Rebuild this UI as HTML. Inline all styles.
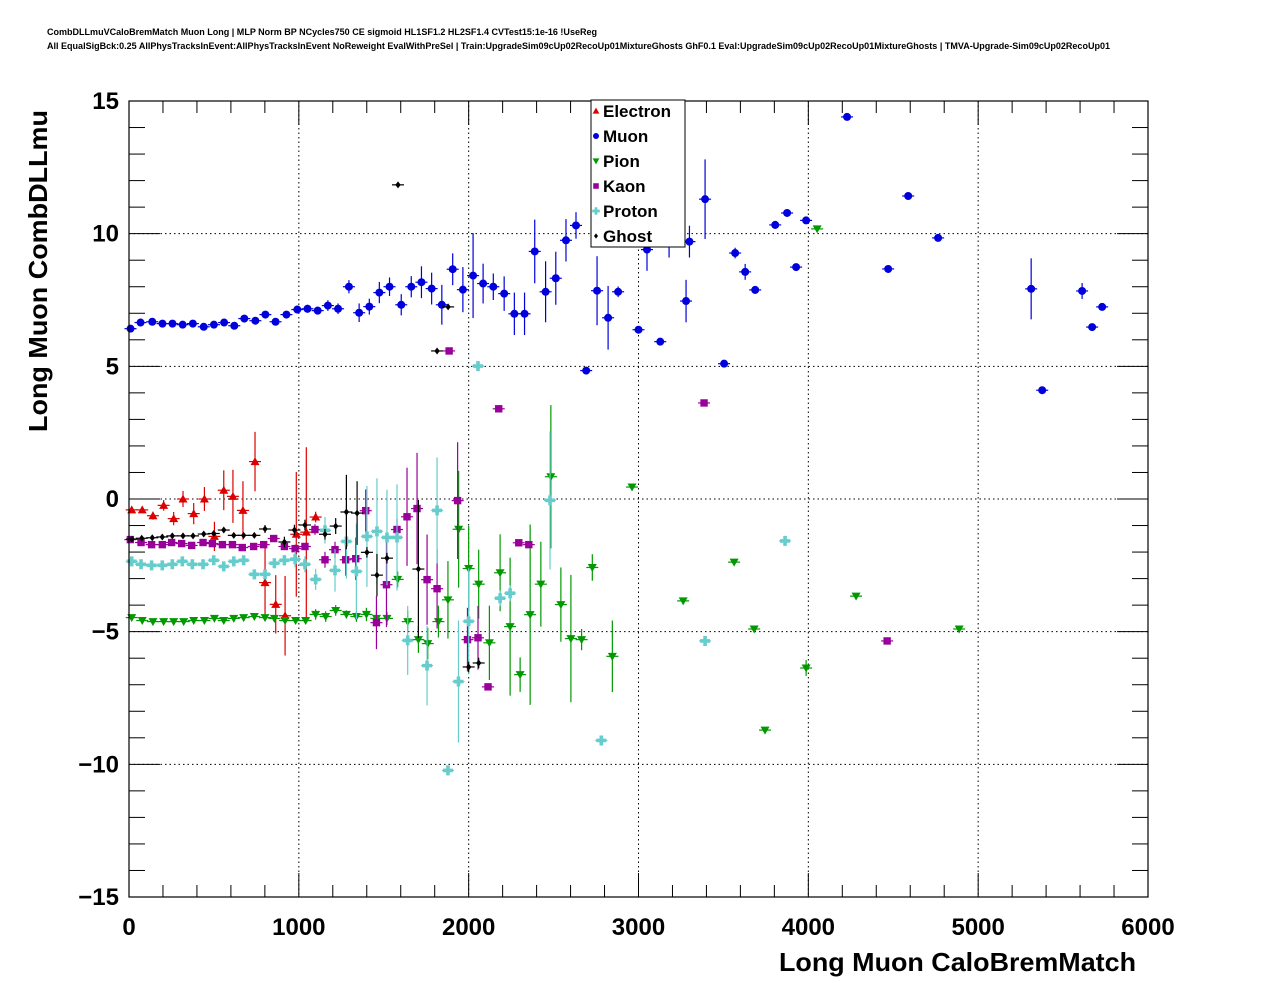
<!DOCTYPE html>
<html><head><meta charset="utf-8">
<style>
html,body{margin:0;padding:0;background:#fff;}
svg{display:block;font-family:"Liberation Sans",sans-serif;}
</style></head>
<body>
<svg id="chart" width="1276" height="996" viewBox="0 0 1276 996" xmlns="http://www.w3.org/2000/svg">
<rect width="1276" height="996" fill="#fff"/>
<text x="47" y="35" font-size="9.2" font-weight="bold" textLength="550" lengthAdjust="spacingAndGlyphs">CombDLLmuVCaloBremMatch Muon Long | MLP Norm BP NCycles750 CE sigmoid HL1SF1.2 HL2SF1.4 CVTest15:1e-16 !UseReg</text>
<text x="47" y="49" font-size="9.2" font-weight="bold" textLength="1063" lengthAdjust="spacingAndGlyphs">All EqualSigBck:0.25 AllPhysTracksInEvent:AllPhysTracksInEvent NoReweight EvalWithPreSel | Train:UpgradeSim09cUp02RecoUp01MixtureGhosts GhF0.1 Eval:UpgradeSim09cUp02RecoUp01MixtureGhosts | TMVA-Upgrade-Sim09cUp02RecoUp01</text>
<g id="grid"></g>
<g id="axes"></g>
<g id="marks"></g>
<rect x="129" y="101" width="1019" height="796" fill="none" stroke="#000" stroke-width="1.2"/>
<text x="1136" y="971" font-size="26" font-weight="bold" text-anchor="end" textLength="357" lengthAdjust="spacingAndGlyphs">Long Muon CaloBremMatch</text>
<text transform="translate(47,432) rotate(-90)" font-size="26" font-weight="bold" textLength="322" lengthAdjust="spacingAndGlyphs">Long Muon CombDLLmu</text>
<g id="legend"></g>
</svg>
<script>
const xTicks=[0,1000,2000,3000,4000,5000,6000];
const yTicks=[-15,-10,-5,0,5,10,15];
const yTickLabels=["\u221215","\u221210","\u22125","0","5","10","15"];

const electronX=[16,78,141,204,263,318,381,444,503,558,612,671,742,801,864,919,985,1044,1099];
const electronY=[-0.41,-0.41,-0.63,-0.24,-0.74,0.0,-0.55,0.0,-1.41,0.33,0.10,-0.43,1.41,-3.15,-3.97,-4.4,-1.33,-1.25,-0.68];
const electronE=[0.1,0.1,0.15,0.2,0.25,0.3,0.4,0.45,0.55,0.75,1.0,1.1,1.12,1.3,1.1,1.5,2.35,3.2,0.2];

const muonX=[9,68,137,197,256,316,376,440,500,560,620,679,744,803,863,927,991,1051,1111,1171,1231,1295,1355,1415,1474,1534,1603,1662,1722,1782,1842,1906,1966,2026,2085,2145,2209,2269,2329,2389,2453,2513,2573,2632,2692,2756,2821,2880,3000,3050,3128,3180,3280,3300,3392,3504,3569,3628,3687,3805,3875,3928,3987,4228,4470,4588,4764,5312,5377,5612,5671,5730];
const muonY=[6.42,6.65,6.68,6.61,6.61,6.57,6.61,6.49,6.57,6.65,6.53,6.80,6.72,6.95,6.68,6.95,7.14,7.17,7.10,7.29,7.17,8.00,7.02,7.25,7.78,8.00,7.32,8.00,8.17,7.93,7.32,8.66,7.89,8.42,8.12,8.00,7.74,6.98,6.98,9.33,7.81,8.32,9.75,10.31,4.84,7.85,6.83,7.81,6.38,9.4,5.93,9.9,7.46,9.7,11.3,5.1,9.27,8.56,7.88,10.33,10.78,8.74,10.5,14.4,8.67,11.42,9.84,7.92,4.1,7.84,6.48,7.24];
const muonE=[0.1,0.1,0.1,0.1,0.1,0.1,0.1,0.1,0.1,0.1,0.1,0.1,0.1,0.1,0.1,0.1,0.15,0.15,0.15,0.2,0.2,0.25,0.35,0.3,0.4,0.35,0.4,0.4,0.6,0.6,0.75,0.6,0.85,1.6,0.75,0.5,0.65,0.8,0.8,1.2,1.15,1.0,0.8,0.5,0.1,1.3,1.2,0.2,0.1,0.8,0.1,0.8,0.8,0.6,1.5,0.1,0.2,0.3,0.15,0.15,0.1,0.1,0.1,0.1,0.1,0.1,0.1,1.15,0.1,0.3,0.1,0.1];

const pionX=[16,78,141,204,263,322,381,444,503,558,617,675,738,801,856,919,981,1040,1099,1158,1217,1280,1339,1398,1457,1519,1582,1641,1704,1759,1822,1878,1941,2000,2059,2122,2185,2244,2303,2362,2425,2484,2543,2602,2665,2728,2846,2962,3263,3563,3681,3745,3987,4052,4281,4888];
const pionY=[-4.47,-4.58,-4.62,-4.62,-4.62,-4.62,-4.58,-4.58,-4.50,-4.58,-4.50,-4.47,-4.43,-4.47,-4.50,-4.58,-4.58,-4.58,-4.35,-4.43,-4.20,-4.35,-4.43,-4.35,-4.50,-4.50,-3.03,-4.62,-5.3,-5.45,-4.62,-3.8,-1.14,-2.62,-3.21,-5.42,-2.78,-4.81,-6.62,-4.36,-3.21,0.84,-3.98,-5.26,-5.30,-2.58,-5.93,0.45,-3.84,-2.38,-4.90,-8.71,-6.37,10.18,-3.66,-4.90];
const pionE=[0.05,0.05,0.05,0.05,0.05,0.05,0.05,0.05,0.05,0.05,0.05,0.05,0.05,0.05,0.1,0.1,0.1,0.1,0.2,0.2,0.2,0.15,0.2,0.25,0.25,0.25,0.3,0.4,0.5,0.6,0.6,1.46,2.2,1.6,1.3,1.4,1.45,2.6,0.65,3.4,1.6,2.7,1.4,2.4,0.4,0.5,1.35,0.1,0.1,0.1,0.1,0.1,0.3,0.1,0.1,0.1];

const kaonX=[8,71,133,196,251,310,369,436,491,550,609,667,734,793,852,915,978,1036,1095,1154,1213,1276,1335,1394,1457,1516,1578,1637,1696,1755,1814,1885,1935,1993,2055,2114,2177,2295,2354,3386,4464];
const kaonY=[-1.53,-1.64,-1.72,-1.72,-1.64,-1.68,-1.75,-1.64,-1.68,-1.72,-1.72,-1.83,-1.79,-1.72,-1.49,-1.79,-1.87,-1.79,-1.15,-2.29,-1.91,-2.29,-2.25,-0.44,-4.66,-3.23,-1.15,-0.67,-0.36,-3.04,-3.38,5.58,-0.06,-5.30,-5.23,-7.08,3.40,-1.65,-1.72,3.62,-5.35];
const kaonE=[0.05,0.05,0.05,0.05,0.05,0.05,0.05,0.05,0.05,0.05,0.05,0.05,0.1,0.1,0.1,0.1,0.15,0.1,0.2,0.3,0.3,0.6,0.8,0.8,1.0,1.6,0.4,1.85,2.1,1.7,1.5,0.05,2.2,1.2,1.2,0.1,0.05,0.1,0.1,0.05,0.05];

const protonX=[16,71,133,196,255,314,373,436,499,558,617,675,738,801,856,915,978,1036,1099,1154,1213,1280,1339,1401,1460,1519,1578,1641,1755,1814,1878,1940,2000,2055,2185,2244,2479,2781,3392,3863];
const protonY=[-2.35,-2.46,-2.5,-2.5,-2.46,-2.35,-2.46,-2.46,-2.31,-2.54,-2.35,-2.31,-2.84,-2.84,-2.42,-2.31,-2.27,-2.46,-3.03,-1.18,-2.69,-1.60,-2.73,-1.41,-1.22,-1.45,-1.45,-5.33,-6.28,-0.43,-10.23,-6.88,-4.61,5.01,-3.74,-3.55,-0.05,-9.1,-5.35,-1.58];
const protonE=[0.05,0.05,0.05,0.05,0.05,0.05,0.05,0.05,0.05,0.05,0.05,0.1,0.15,0.15,0.15,0.2,0.3,0.3,0.4,0.5,0.8,1.4,1.8,1.9,2.0,1.8,2.0,1.3,1.5,2.0,0.05,2.3,2.0,0.05,0.3,0.3,2.6,0.05,0.05,0.05];

const ghostX=[17,75,137,196,255,318,377,440,499,558,617,675,738,801,915,974,1036,1154,1217,1280,1343,1401,1460,1519,1584,1704,1814,1879,2000,2059];
const ghostY=[-1.51,-1.48,-1.46,-1.43,-1.39,-1.39,-1.39,-1.32,-1.30,-1.17,-1.37,-1.37,-1.37,-1.13,-1.62,-1.17,-0.98,-1.33,-1.02,-0.49,-0.53,-2.01,-2.87,-2.23,11.84,-2.64,5.58,7.24,-6.33,-6.18];
const ghostE=[0.05,0.05,0.05,0.05,0.05,0.05,0.05,0.05,0.05,0.05,0.05,0.1,0.1,0.15,0.2,0.2,0.2,0.2,0.3,1.4,1.2,0.2,0.8,0.2,0.05,2.6,0.05,0.05,0.2,0.2];

const X0=129,X1=1148,Y0=897,Y1=101;
const xs=v=>X0+(v-0)/6000*(X1-X0);
const ys=v=>Y0-(v+15)/30*(Y0-Y1);
const NS="http://www.w3.org/2000/svg";
function mk(tag,attrs,parent){const e=document.createElementNS(NS,tag);for(const k in attrs)e.setAttribute(k,attrs[k]);parent.appendChild(e);return e;}
const grid=document.getElementById('grid'),axes=document.getElementById('axes'),marks=document.getElementById('marks'),legend=document.getElementById('legend');

xTicks.forEach((t,i)=>{
  const x=xs(t);
  if(i>0&&i<xTicks.length-1){const g=mk('line',{x1:x,x2:x,y1:Y1,y2:Y0,stroke:'#000','stroke-width':1,'stroke-dasharray':'1.5,3'},grid);
  
  }
  const l=mk('text',{x:x,y:935,'font-size':24,'font-weight':'bold','text-anchor':'middle'},axes);
  
  
  l.textContent=t;
  mk('line',{x1:x,x2:x,y1:Y0,y2:Y0-24,stroke:'#000'},axes);
  mk('line',{x1:x,x2:x,y1:Y1,y2:Y1+24,stroke:'#000'},axes);
  if(i<xTicks.length-1){for(let k=1;k<5;k++){const xm=xs(t+k*200);
    mk('line',{x1:xm,x2:xm,y1:Y0,y2:Y0-12,stroke:'#000'},axes);
    mk('line',{x1:xm,x2:xm,y1:Y1,y2:Y1+12,stroke:'#000'},axes);}}
});
yTicks.forEach((t,i)=>{
  const y=ys(t);
  if(i>0&&i<yTicks.length-1){const g=mk('line',{x1:X0,x2:X1,y1:y,y2:y,stroke:'#000','stroke-width':1,'stroke-dasharray':'1.5,3'},grid);
  
  }
  const l=mk('text',{x:119,y:y+8,'font-size':24,'font-weight':'bold','text-anchor':'end'},axes);
  
  
  l.textContent=yTickLabels[i];
  mk('line',{x1:X0,x2:X0+31,y1:y,y2:y,stroke:'#000'},axes);
  mk('line',{x1:X1,x2:X1-31,y1:y,y2:y,stroke:'#000'},axes);
  if(i<yTicks.length-1){for(let k=1;k<5;k++){const ym=ys(t+k);
    mk('line',{x1:X0,x2:X0+16,y1:ym,y2:ym,stroke:'#000'},axes);
    mk('line',{x1:X1,x2:X1-16,y1:ym,y2:ym,stroke:'#000'},axes);}}
});

function marker(type,color,x,y,p,s){
  s=s||1;
  if(type==='tri')return mk('polygon',{points:`${x},${y-4.5*s} ${x-4.5*s},${y+3.5*s} ${x+4.5*s},${y+3.5*s}`,fill:color},p);
  if(type==='dtri')return mk('polygon',{points:`${x},${y+4.5*s} ${x-4.5*s},${y-3.5*s} ${x+4.5*s},${y-3.5*s}`,fill:color},p);
  if(type==='circ')return mk('circle',{cx:x,cy:y,r:4*s,fill:color},p);
  if(type==='sq')return mk('rect',{x:x-3.7*s,y:y-3.7*s,width:7.4*s,height:7.4*s,fill:color},p);
  if(type==='cross')return mk('path',{d:`M${x-5*s},${y-1.8*s}h${3.2*s}v${-3.2*s}h${3.6*s}v${3.2*s}h${3.2*s}v${3.6*s}h${-3.2*s}v${3.2*s}h${-3.6*s}v${-3.2*s}h${-3.2*s}z`,fill:color},p);
  if(type==='dia')return mk('polygon',{points:`${x},${y-3.5*s} ${x+2.7*s},${y} ${x},${y+3.5*s} ${x-2.7*s},${y}`,fill:color},p);
}
const series=[
 {name:'electron',label:'Electron',type:'tri',color:'#dd0000',X:electronX,Y:electronY,E:electronE},
 {name:'muon',label:'Muon',type:'circ',color:'#0000dd',X:muonX,Y:muonY,E:muonE},
 {name:'pion',label:'Pion',type:'dtri',color:'#009900',X:pionX,Y:pionY,E:pionE},
 {name:'kaon',label:'Kaon',type:'sq',color:'#990099',X:kaonX,Y:kaonY,E:kaonE},
 {name:'proton',label:'Proton',type:'cross',color:'#66cccc',X:protonX,Y:protonY,E:protonE},
 {name:'ghost',label:'Ghost',type:'dia',color:'#000000',X:ghostX,Y:ghostY,E:ghostE}
];
series.forEach(s=>{
  const g=mk('g',{},marks);
  
  
  s.X.forEach((v,i)=>{
    const x=xs(v),y=ys(s.Y[i]);
    const pt=mk('g',{},g);
    
    
    mk('line',{x1:x,x2:x,y1:ys(s.Y[i]+s.E[i]),y2:ys(s.Y[i]-s.E[i]),stroke:s.color,'stroke-width':1.2},pt);
    mk('line',{x1:x-6,x2:x+6,y1:y,y2:y,stroke:s.color,'stroke-width':1.2},pt);
    marker(s.type,s.color,x,y,pt);
  });
});
const lb=mk('rect',{x:591,y:100,width:94,height:147,fill:'#fff',stroke:'#000','stroke-width':1},legend);


series.forEach((s,i)=>{
  const y=111+i*25;
  const e=mk('g',{},legend);
  
  
  marker(s.type,s.color,596,y,e,0.75);
  const t=mk('text',{x:603,y:y+6,'font-size':17,'font-weight':'bold'},e);
  t.textContent=s.label;
});
</script>
</body></html>
